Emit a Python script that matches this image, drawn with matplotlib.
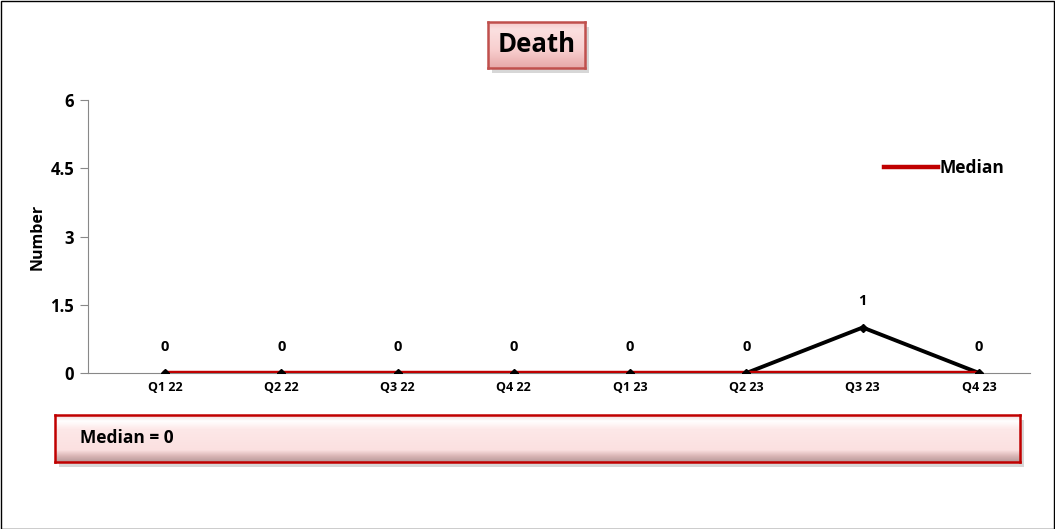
import matplotlib
matplotlib.use("Agg")
import matplotlib.pyplot as plt
import numpy as np
from matplotlib.colors import LinearSegmentedColormap
from matplotlib.patches import Rectangle

# ── data ──────────────────────────────────────────────────────────────────────
quarters = ["Q1 22", "Q2 22", "Q3 22", "Q4 22", "Q1 23", "Q2 23", "Q3 23", "Q4 23"]
deaths = [0, 0, 0, 0, 0, 0, 1, 0]
median_vals = [0, 0, 0, 0, 0, 0, 0, 0]
y_ticks = [0, 1.5, 3, 4.5, 6]
y_tick_labels = ["0", "1.5", "3", "4.5", "6"]
median_text = "Median = 0"

plt.rcParams["font.family"] = ["Open Sans", "DejaVu Sans"]
BOLD = "bold"

W, H = 1055, 529
fig = plt.figure(figsize=(W / 100, H / 100), dpi=100, facecolor="white")

# outer border
fig.patches.append(Rectangle((0.5 / W, 0.5 / H), 1 - 1.5 / W, 1 - 1.5 / H,
                             transform=fig.transFigure, fill=False,
                             edgecolor="black", linewidth=1.0))


def px_rect(x0, y0, x1, y1):
    """pixel box (top-left origin) -> figure fraction [l, b, w, h]"""
    return [x0 / W, 1 - y1 / H, (x1 - x0) / W, (y1 - y0) / H]


def bevel_box(x0, y0, x1, y1, stops, edge):
    # soft shadow
    sh = fig.add_axes(px_rect(x0 + 4, y0 + 5, x1 + 4, y1 + 5))
    sh.set_axis_off()
    sh.add_patch(Rectangle((0, 0), 1, 1, transform=sh.transAxes,
                           facecolor="#b0b0b0", alpha=0.5))
    bx = fig.add_axes(px_rect(x0, y0, x1, y1))
    cmap = LinearSegmentedColormap.from_list("bev", stops)
    grad = np.linspace(0, 1, 64).reshape(-1, 1)
    bx.imshow(grad, cmap=cmap, aspect="auto", extent=(0, 1, 0, 1),
              origin="upper")
    bx.set_xlim(0, 1)
    bx.set_ylim(0, 1)
    bx.set_xticks([])
    bx.set_yticks([])
    for s in bx.spines.values():
        s.set_color(edge)
        s.set_linewidth(1.8)
    return bx


# title box
bevel_box(488, 22, 585, 68,
          [(0.0, "#f6c9c9"), (0.15, "#fbe0e0"), (0.6, "#f8cfcf"),
           (1.0, "#e7a9a9")], "#c0504d")
fig.text((488 + 585) / 2 / W, 1 - 45 / H, "Death", ha="center", va="center",
         fontsize=18.5, fontweight=BOLD)

# median box
bevel_box(55, 415, 1020, 462,
          [(0.0, "#f3d8d8"), (0.12, "#ffffff"), (0.3, "#fde8e8"),
           (0.75, "#fbe0e0"), (0.88, "#d9b5b5"), (1.0, "#b89a9a")], "#c00000")
fig.text(80 / W, 1 - 438 / H, median_text, ha="left", va="center",
         fontsize=12.5, fontweight=BOLD)

# main plot
ax = fig.add_axes(px_rect(88, 100, 1030, 373))
ax.patch.set_alpha(0)
xs = list(range(len(quarters)))

ax.plot(xs, deaths, color="black", linewidth=2.8, zorder=3)
ax.plot(xs, median_vals, color="#c00000", linewidth=3.2, label="Median",
        zorder=4)
ax.plot(xs, deaths, linestyle="none", color="black", marker="D",
        markersize=4, zorder=5)

for x, v in zip(xs, deaths):
    ax.annotate(f"{v}", (x, v), textcoords="offset points", xytext=(0, 14),
                ha="center", va="bottom", fontsize=10.5, fontweight=BOLD)

step = (979 - 165) / 7
ax.set_xlim(-(165 - 88) / step, (1030 - 165) / step)
ax.set_ylim(0, 6)
ax.set_xticks(xs)
ax.set_xticklabels(quarters, fontsize=9, fontweight=BOLD)
ax.set_yticks(y_ticks)
ax.set_yticklabels(y_tick_labels, fontsize=12, fontweight=BOLD)
ax.tick_params(axis="x", length=0, pad=6)
ax.tick_params(axis="y", length=6, color="#888888", direction="out", pad=4)
for s in ("top", "right"):
    ax.spines[s].set_visible(False)
ax.spines["left"].set_color("#888888")
ax.spines["bottom"].set_color("#888888")
ax.set_ylabel("Number", fontsize=11.5, fontweight=BOLD)
ax.yaxis.set_label_coords((46 - 88) / (1030 - 88), 0.5)

ax.legend(loc="center left", bbox_to_anchor=(884 / W, 1 - 168 / H),
          bbox_transform=fig.transFigure, frameon=False, borderpad=0,
          borderaxespad=0, handlelength=3.1, handletextpad=0.1,
          prop={"weight": BOLD, "size": 12.5})

fig.savefig("out.png", dpi=100)
